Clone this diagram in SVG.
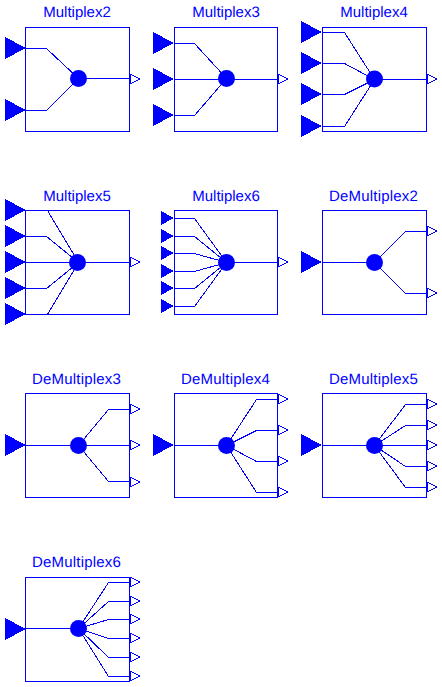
<svg xmlns="http://www.w3.org/2000/svg" width="442" height="687" viewBox="0 0 442 687">
<style>
rect.b{fill:none;stroke:#00f;stroke-width:1;shape-rendering:crispEdges}
path.w{fill:none;stroke:#00f;stroke-width:1;shape-rendering:crispEdges}
circle{fill:#00f}
.i{fill:#00f;stroke:none;shape-rendering:crispEdges}
.o{fill:#fff;stroke:#00f;stroke-width:1;shape-rendering:crispEdges}
text{font-family:"Liberation Sans",Arial,sans-serif;font-size:15px;fill:#00f;text-anchor:middle;text-rendering:geometricPrecision}
.d{letter-spacing:.2px}
</style>
<defs>
<polygon id="I" class="i" points="0,0 -21,-11 -21,11"/>
<polygon id="S" class="i" points="0,0 -13,-7 -13,7"/>
<polygon id="O" class="o" points="0,-5 10,0 0,5"/>
</defs>
<rect width="442" height="687" fill="#fff"/>
<g id="connectors">
<path class="w" d="M25.5 48.5H46.5L78.5 78.5L46.5 110.5H25.5M78.5 78.5H129.5"/>
<path class="w" d="M174.5 43.5H194.5L226.5 78.5L194.5 115.5H174.5M174.5 79.5H277.5"/>
<path class="w" d="M322.5 32.5H344.5L374.5 79.5L344.5 126.5H322.5M322.5 63.5H344.5L374.5 79.5L344.5 94.5H322.5M374.5 79.5H426.5"/>
<path class="w" d="M47.5 210.5L78.5 262.5L47.5 314.5M25.5 236.5H46.5L78.5 262.5L46.5 288.5H25.5M25.5 262.5H129.5"/>
<path class="w" d="M174.5 218.5H194.5L226.5 262.5L194.5 306.5H174.5M174.5 236.5H194.5L226.5 262.5L194.5 288.5H174.5M174.5 253.5H194.5L226.5 262.5L194.5 271.5H174.5M226.5 262.5H277.5"/>
<path class="w" d="M322.5 262.5H374.5M426.5 231.5H405.5L374.5 262.5L405.5 293.5H426.5"/>
<path class="w" d="M25.5 445.5H129.5M129.5 409.5H108.5L78.5 445.5L108.5 481.5H129.5"/>
<path class="w" d="M174.5 445.5H226.5M277.5 399.5H256.5L226.5 445.5L256.5 492.5H277.5M277.5 430.5H256.5L226.5 445.5L256.5 461.5H277.5"/>
<path class="w" d="M322.5 445.5H426.5M426.5 404.5H405.5L374.5 445.5L405.5 487.5H426.5M426.5 425.5H405.5L374.5 445.5L405.5 466.5H426.5"/>
<path class="w" d="M25.5 628.5H78.5M129.5 582.5H108.5L78.5 628.5L108.5 676.5H129.5M129.5 601.5H108.5L78.5 628.5L108.5 657.5H129.5M129.5 619.5H108.5L78.5 628.5L108.5 638.5H129.5"/>
</g>
<g id="Multiplex2"><rect class="b" x="25.5" y="27.5" width="104" height="104"/><circle cx="78.5" cy="78.5" r="8.5"/><use href="#I" x="26" y="48"/><use href="#I" x="26" y="110"/><use href="#O" x="130" y="79"/><text x="77" y="17">Multiplex2</text></g>
<g id="Multiplex3"><rect class="b" x="174.5" y="27.5" width="103" height="104"/><circle cx="226.5" cy="78.5" r="8.5"/><use href="#I" x="174" y="43"/><use href="#I" x="174" y="79"/><use href="#I" x="174" y="115"/><use href="#O" x="278" y="79"/><text x="226" y="17">Multiplex3</text></g>
<g id="Multiplex4"><rect class="b" x="322.5" y="27.5" width="104" height="104"/><circle cx="374.5" cy="79" r="8.5"/><use href="#I" x="322" y="32"/><use href="#I" x="322" y="63"/><use href="#I" x="322" y="94"/><use href="#I" x="322" y="126"/><use href="#O" x="427" y="79"/><text x="374" y="17">Multiplex4</text></g>
<g id="Multiplex5"><rect class="b" x="25.5" y="210.5" width="104" height="104"/><circle cx="77.5" cy="262.5" r="8.5"/><use href="#I" x="26" y="210"/><use href="#I" x="26" y="236"/><use href="#I" x="26" y="262"/><use href="#I" x="26" y="288"/><use href="#I" x="26" y="314"/><use href="#O" x="130" y="262"/><text x="77" y="201">Multiplex5</text></g>
<g id="Multiplex6"><rect class="b" x="174.5" y="210.5" width="103" height="104"/><circle cx="226.5" cy="262.5" r="8.5"/><use href="#S" x="174" y="218"/><use href="#S" x="174" y="236"/><use href="#S" x="174" y="253"/><use href="#S" x="174" y="271"/><use href="#S" x="174" y="288"/><use href="#S" x="174" y="306"/><use href="#O" x="278" y="262"/><text x="226" y="201">Multiplex6</text></g>
<g id="DeMultiplex2"><rect class="b" x="322.5" y="210.5" width="104" height="104"/><circle cx="374.5" cy="262.5" r="8.5"/><use href="#I" x="322" y="262"/><use href="#O" x="427" y="231"/><use href="#O" x="427" y="293"/><text class="d" x="373.5" y="201">DeMultiplex2</text></g>
<g id="DeMultiplex3"><rect class="b" x="25.5" y="393.5" width="104" height="104"/><circle cx="78.5" cy="445.5" r="8.5"/><use href="#I" x="26" y="445"/><use href="#O" x="130" y="409"/><use href="#O" x="130" y="445"/><use href="#O" x="130" y="482"/><text class="d" x="76.5" y="384">DeMultiplex3</text></g>
<g id="DeMultiplex4"><rect class="b" x="174.5" y="393.5" width="103" height="104"/><circle cx="226.5" cy="445.5" r="8.5"/><use href="#I" x="174" y="445"/><use href="#O" x="278" y="399"/><use href="#O" x="278" y="430"/><use href="#O" x="278" y="461"/><use href="#O" x="278" y="492"/><text class="d" x="225.5" y="384">DeMultiplex4</text></g>
<g id="DeMultiplex5"><rect class="b" x="322.5" y="393.5" width="104" height="104"/><circle cx="374.5" cy="445.5" r="8.5"/><use href="#I" x="322" y="445"/><use href="#O" x="427" y="404"/><use href="#O" x="427" y="425"/><use href="#O" x="427" y="445"/><use href="#O" x="427" y="466"/><use href="#O" x="427" y="487"/><text class="d" x="373.5" y="384">DeMultiplex5</text></g>
<g id="DeMultiplex6"><rect class="b" x="25.5" y="577.5" width="104" height="104"/><circle cx="78.5" cy="628.5" r="8.5"/><use href="#I" x="26" y="629"/><use href="#O" x="130" y="582"/><use href="#O" x="130" y="601"/><use href="#O" x="130" y="619"/><use href="#O" x="130" y="638"/><use href="#O" x="130" y="657"/><use href="#O" x="130" y="676"/><text class="d" x="76.5" y="567">DeMultiplex6</text></g>
</svg>
